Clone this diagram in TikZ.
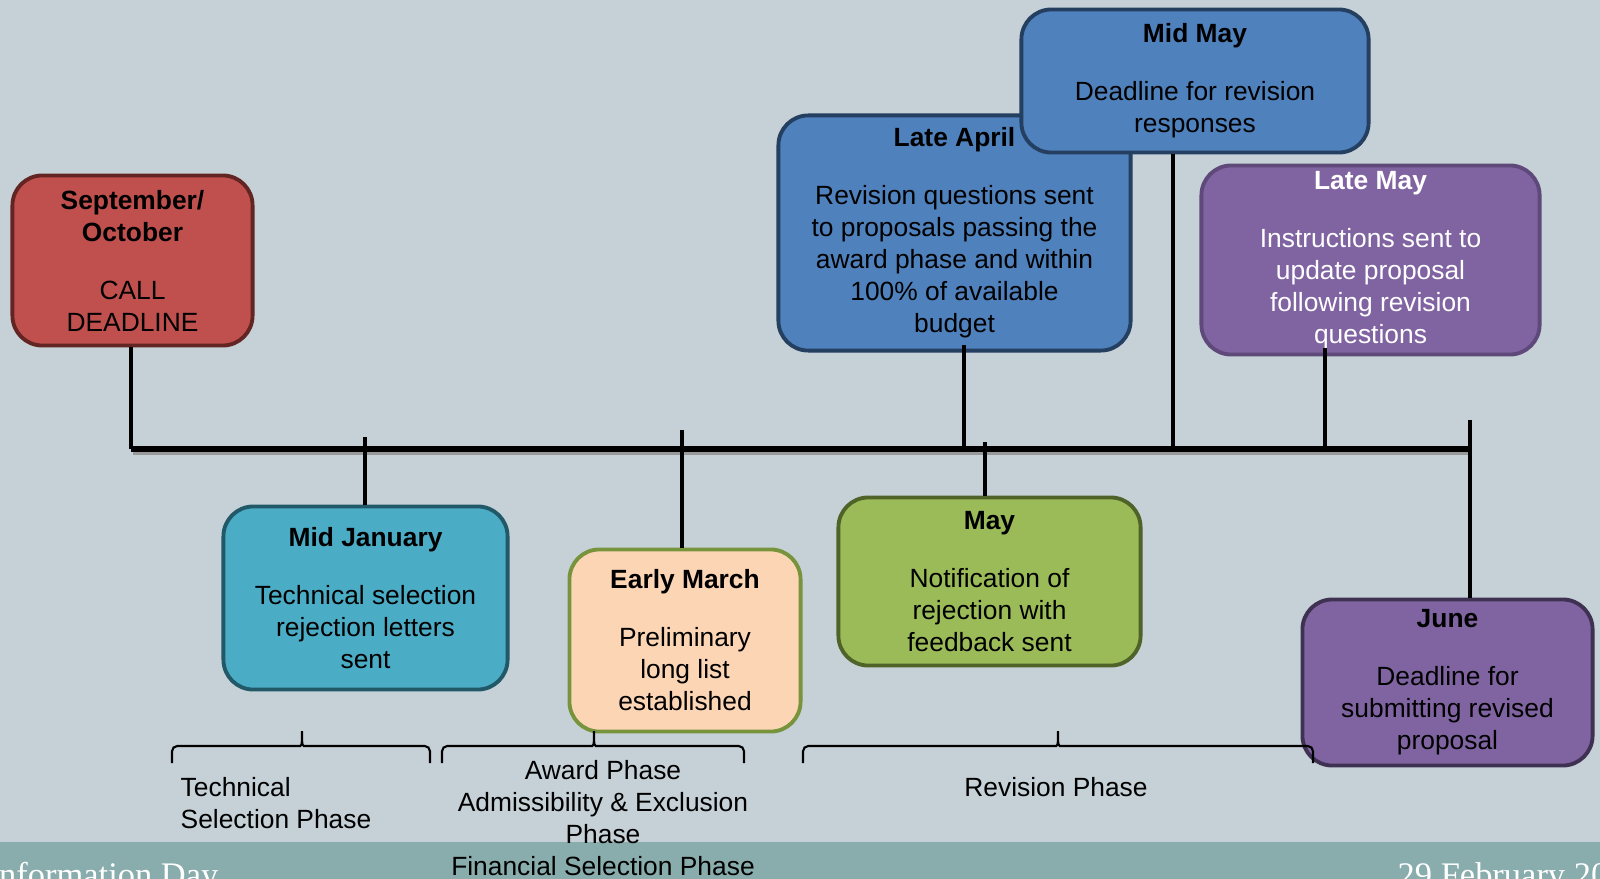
\documentclass[tikz,border=0pt]{standalone}
\usepackage{fontspec}
\setmainfont{Liberation Sans}
\newfontfamily\slidefont{Liberation Serif}
\definecolor{slidebg}{HTML}{C5D1D7}
\definecolor{footbar}{HTML}{89ACAC}
\definecolor{redfill}{HTML}{C0504D}
\definecolor{reddraw}{HTML}{632523}
\definecolor{tealfill}{HTML}{4BACC6}
\definecolor{tealdraw}{HTML}{215968}
\definecolor{peachfill}{HTML}{FCD5B5}
\definecolor{olivedraw}{HTML}{77933C}
\definecolor{bluefill}{HTML}{4F81BD}
\definecolor{bluedraw}{HTML}{243F60}
\definecolor{greenfill}{HTML}{9BBB59}
\definecolor{greendraw}{HTML}{4F6228}
\definecolor{purplefill}{HTML}{8064A2}
\definecolor{purpledraw}{HTML}{3F3151}
\definecolor{lilacdraw}{HTML}{5F497A}

\begin{document}
\begin{tikzpicture}[x=0.01cm,y=-0.01cm,
	every node/.style={font=\fontsize{7.5}{9.1}\selectfont,align=center,inner sep=0pt},
	datebox/.style={rounded corners=8.5pt,line width=1.1pt},
	link/.style={line width=1.1pt},
	phase/.style={line width=0.6pt,rounded corners=1.5pt}]
	\clip (0,0) rectangle (1600,879);
	\fill[slidebg] (0,0) rectangle (1600,879);
	\fill[footbar] (0,842) rectangle (1600,879);
	\node[anchor=base west,text=white,font=\slidefont\fontsize{9.8}{11}\selectfont] (footleft) at (-13,886) {Information Day};
	\node[anchor=base west,text=white,font=\slidefont\fontsize{9.8}{11}\selectfont] (footright) at (1397,886) {29 February 20};
	% timeline
	\coordinate (tSep) at (131,449);
	\coordinate (tJan) at (365,449);
	\coordinate (tMar) at (682,449);
	\coordinate (tApr) at (964,449);
	\coordinate (tMay) at (985,449);
	\coordinate (tMidMay) at (1173,449);
	\coordinate (tLateMay) at (1325,449);
	\coordinate (tJun) at (1470,449);
	\draw[line width=1.5pt,black!40] ([shift={(2,3)}]tSep) -- ([shift={(2,3)}]tJun);
	\draw[line width=1.5pt] (tSep) -- (tJun);
	% boxes
	\node[datebox,fill=redfill,draw=reddraw,minimum width=2.40cm,minimum height=1.70cm] (sepoct) at (132.5,260.5)
		{\textbf{September/}\\\textbf{October}\\[7.4pt]CALL\\DEADLINE};
	\node[datebox,fill=tealfill,draw=tealdraw,minimum width=2.84cm,minimum height=1.83cm] (midjan) at (365.5,598)
		{\textbf{Mid January}\\[7.4pt]Technical selection\\rejection letters\\sent};
	\node[datebox,fill=peachfill,draw=olivedraw,minimum width=2.31cm,minimum height=1.82cm] (earlymar) at (685,640.5)
		{\textbf{Early March}\\[7.4pt]Preliminary\\long list\\established};
	\node[datebox,fill=bluefill,draw=bluedraw,minimum width=3.52cm,minimum height=2.35cm] (lateapr) at (954.5,233)
		{\textbf{Late April}\\[7.4pt]Revision questions sent\\to proposals passing the\\award phase and within\\100\% of available\\budget};
	\node[datebox,fill=bluefill,draw=bluedraw,minimum width=3.47cm,minimum height=1.43cm] (midmay) at (1195,81)
		{\textbf{Mid May}\\[7.4pt]Deadline for revision\\responses};
	\node[datebox,fill=purplefill,draw=lilacdraw,text=white,minimum width=3.38cm,minimum height=1.89cm] (latemay) at (1370.5,260)
		{\textbf{Late May}\\[7.4pt]Instructions sent to\\update proposal\\following revision\\questions};
	\node[datebox,fill=greenfill,draw=greendraw,minimum width=3.02cm,minimum height=1.68cm] (may) at (989.5,581.5)
		{\textbf{May}\\[7.4pt]Notification of\\rejection with\\feedback sent};
	\node[datebox,fill=purplefill,draw=purpledraw,minimum width=2.90cm,minimum height=1.66cm] (june) at (1447.5,682.5)
		{\textbf{June}\\[7.4pt]Deadline for\\submitting revised\\proposal};
	% connectors
	\draw[link] (tSep |- sepoct.south) -- (tSep);
	\draw[link] ([yshift=3.4pt]tJan) -- (tJan |- midjan.north);
	\draw[link] ([yshift=5.4pt]tMar) -- (tMar |- earlymar.north);
	\draw[link,shorten <=-2pt] (tApr |- lateapr.south) -- (tApr);
	\draw[link] ([yshift=2pt]tMay) -- (tMay |- may.north);
	\draw[link] (tMidMay |- midmay.south) -- (tMidMay);
	\draw[link,shorten <=-2.5pt] (tLateMay |- latemay.south) -- (tLateMay);
	\draw[link] ([yshift=8.3pt]tJun) -- (tJun |- june.north);
	% phases
	\foreach \a/\m/\b in {172/302/430,442/594/744,803/1058/1313}
		\draw[phase] (\a,763) -- (\a,746) -- (\m-7,746) to[out=0,in=-90] (\m,728) to[out=-90,in=180] (\m+7,746) -- (\b,746) -- (\b,763);
	\node[anchor=west,align=left] (techphase) at (180,803) {Technical\\Selection Phase};
	\node (awardphase) at (603,818) {Award Phase\\Admissibility \& Exclusion\\Phase\\Financial Selection Phase};
	\node (revphase) at (1056,787) {Revision Phase};
\end{tikzpicture}
\end{document}
